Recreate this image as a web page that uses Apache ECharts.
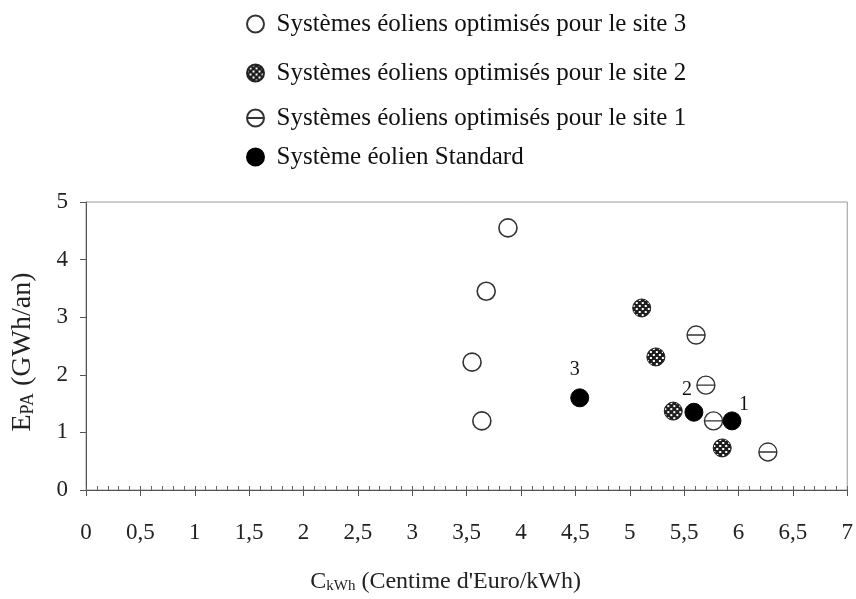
<!DOCTYPE html>
<html>
<head>
<meta charset="utf-8">
<script src="https://cdn.jsdelivr.net/npm/echarts@6/dist/echarts.min.js"></script>
<style>html,body{margin:0;padding:0;background:#fff;}#c{width:856px;height:599px;}</style>
</head>
<body>
<div id="c"></div>
<script>
// ---- data ----
const seriesNames = [
  'Systèmes éoliens optimisés pour le site 3',
  'Systèmes éoliens optimisés pour le site 2',
  'Systèmes éoliens optimisés pour le site 1',
  'Système éolien Standard'
];
const site3X = [3.88, 3.68, 3.55, 3.64];
const site3Y = [4.55, 3.45, 2.22, 1.20];
const site2X = [5.11, 5.24, 5.40, 5.85];
const site2Y = [3.16, 2.31, 1.37, 0.73];
const site1X = [5.61, 5.70, 5.77, 6.27];
const site1Y = [2.69, 1.82, 1.20, 0.66];
const stdX = [4.54, 5.59, 5.94];
const stdY = [1.60, 1.35, 1.20];
const stdLabels = ['3', '2', '1'];
const xTicks = {min: 0, max: 7, interval: 0.5};
const yTicks = {min: 0, max: 5, interval: 1};

// ---- styling helpers ----
const FONT = '"Liberation Serif", "Times New Roman", serif';
const stdLabelOffsets = [[-5, -28], [-7, -22], [12, -16]];
const SYM = 18;

function pts(xs, ys) { return xs.map((x, i) => [x, ys[i]]); }

const pc = document.createElement('canvas');
pc.width = 6; pc.height = 6;
const g = pc.getContext('2d');
g.fillStyle = '#1e1e1e'; g.fillRect(0, 0, 6, 6);
g.fillStyle = '#ffffff';
g.fillRect(0, 0, 2, 2); g.fillRect(3, 3, 2, 2);
// scatter symbols are drawn as a unit shape scaled by SYM/2, so counter-scale the pattern
const hatchSeries = {image: pc, repeat: 'repeat', scaleX: 2 / SYM, scaleY: 2 / SYM};
const hatchLegend = {image: pc, repeat: 'repeat'};

const site1Symbol = 'path://M0,10A10,10,0,1,1,20,10A10,10,0,1,1,0,10ZM0,10L20,10';

const legendTops = [6, 55, 100, 139];
const legends = seriesNames.map((n, i) => ({
  data: [i === 1 ? {name: n, itemStyle: {color: hatchLegend}} : n],
  left: 241, top: legendTops[i], orient: 'vertical',
  itemWidth: 18, itemHeight: 17, selectedMode: false,
  textStyle: {fontFamily: FONT, fontSize: 25, color: '#111', padding: [0, 0, 0, 7], lineHeight: 26}
}));

const chart = echarts.init(document.getElementById('c'), null, {renderer: 'canvas'});
chart.setOption({
  animation: false,
  backgroundColor: '#fff',
  legend: legends,
  grid: {left: 86, right: 7, top: 202, bottom: 109, show: true, borderColor: '#9a9a9a', borderWidth: 1},
  xAxis: [{
    type: 'value', min: xTicks.min, max: xTicks.max, interval: xTicks.interval,
    name: '{a|C}{b|kWh}{a| (Centime d\'Euro/kWh)}', nameLocation: 'middle', nameGap: 79,
    nameTextStyle: {padding: [0, 42, 0, 0], rich: {
      a: {fontFamily: FONT, fontSize: 24, color: '#222'},
      b: {fontFamily: FONT, fontSize: 15, color: '#222', padding: [10, 0, 0, 0]}
    }},
    axisLine: {lineStyle: {color: '#555', width: 1}},
    axisTick: {show: true, inside: false, length: 6, lineStyle: {color: '#555'}},
    axisLabel: {fontFamily: FONT, fontSize: 23, color: '#222', margin: 31,
      formatter: v => String(v).replace('.', ',')},
    splitLine: {show: false}
  }, {
    type: 'value', min: 0, max: 7, interval: 0.1, position: 'bottom', gridIndex: 0,
    axisLine: {show: false},
    axisTick: {show: true, inside: true, length: 4, lineStyle: {color: '#666'}},
    axisLabel: {show: false}, splitLine: {show: false}
  }],
  yAxis: {
    type: 'value', min: yTicks.min, max: yTicks.max, interval: yTicks.interval,
    name: '{a|E}{b|PA}{a| (GWh/an)}', nameLocation: 'middle', nameGap: 49,
    nameTextStyle: {padding: [0, 12, 0, 0], rich: {
      a: {fontFamily: FONT, fontSize: 28, color: '#222'},
      b: {fontFamily: FONT, fontSize: 18, color: '#222', padding: [10, 0, 0, 0]}
    }},
    axisLine: {show: true, lineStyle: {color: '#555', width: 1}},
    axisTick: {show: true, inside: false, length: 6, lineStyle: {color: '#555'}},
    axisLabel: {fontFamily: FONT, fontSize: 23, color: '#222', margin: 18},
    splitLine: {show: false}
  },
  series: [
    {name: seriesNames[0], type: 'scatter', data: pts(site3X, site3Y), symbol: 'circle', symbolSize: SYM,
      itemStyle: {color: '#fff', borderColor: '#333', borderWidth: 1.6, opacity: 1}},
    {name: seriesNames[1], type: 'scatter', data: pts(site2X, site2Y), symbol: 'circle', symbolSize: SYM,
      itemStyle: {color: hatchSeries, borderColor: '#222', borderWidth: 1, opacity: 1}},
    {name: seriesNames[2], type: 'scatter', data: pts(site1X, site1Y), symbol: site1Symbol, symbolSize: SYM,
      itemStyle: {color: '#fff', borderColor: '#333', borderWidth: 1.4, opacity: 1}},
    {name: seriesNames[3], type: 'scatter', symbol: 'circle', symbolSize: SYM,
      itemStyle: {color: '#000', borderColor: '#000', borderWidth: 1, opacity: 1},
      data: stdX.map((x, i) => ({
        value: [x, stdY[i]],
        label: {show: true, formatter: stdLabels[i], position: 'inside', offset: stdLabelOffsets[i],
          fontFamily: FONT, fontSize: 20, color: '#111'}
      }))}
  ]
});
</script>
</body>
</html>
